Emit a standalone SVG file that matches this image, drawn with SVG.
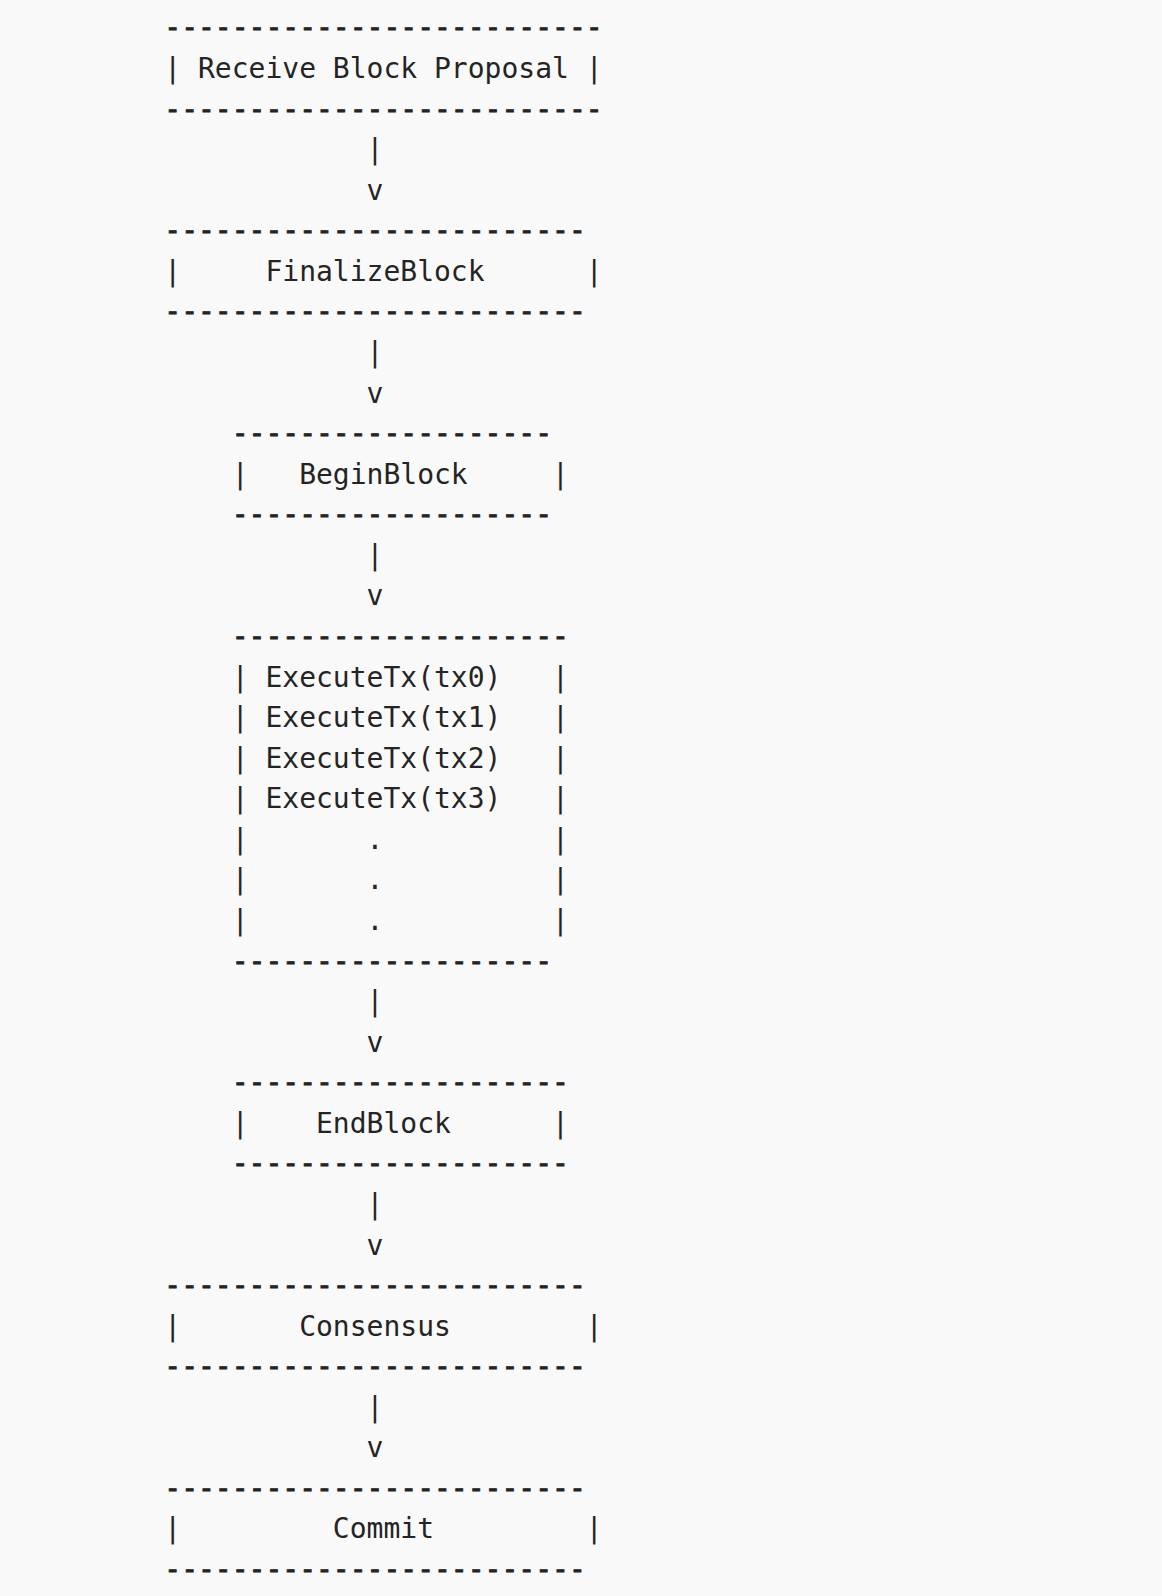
<svg xmlns="http://www.w3.org/2000/svg" width="1162" height="1596" viewBox="0 0 1162 1596">
<style>
text { font-family: "DejaVu Sans Mono", "Liberation Mono", monospace; font-size: 28px; fill: #242424; white-space: pre; }
text.rule { stroke: #242424; stroke-width: 0.8px; }
</style>
<rect x="0" y="0" width="1162" height="1596" fill="#f9f9f9"/>
<g id="node-receive">
<text class="rule" x="164.3" y="37.4" xml:space="preserve">--------------------------</text>
<text x="164.3" y="78" xml:space="preserve">| Receive Block Proposal |</text>
<text class="rule" x="164.3" y="118.5" xml:space="preserve">--------------------------</text>
</g>
<g id="node-finalize">
<text class="rule" x="164.3" y="240.2" xml:space="preserve">-------------------------</text>
<text x="164.3" y="280.8" xml:space="preserve">|     FinalizeBlock      |</text>
<text class="rule" x="164.3" y="321.4" xml:space="preserve">-------------------------</text>
</g>
<g id="node-begin">
<text class="rule" x="164.3" y="443.1" xml:space="preserve">    -------------------</text>
<text x="164.3" y="483.7" xml:space="preserve">    |   BeginBlock     |</text>
<text class="rule" x="164.3" y="524.2" xml:space="preserve">    -------------------</text>
</g>
<g id="node-execute">
<text class="rule" x="164.3" y="645.9" xml:space="preserve">    --------------------</text>
<text x="164.3" y="686.5" xml:space="preserve">    | ExecuteTx(tx0)   |</text>
<text x="164.3" y="727.1" xml:space="preserve">    | ExecuteTx(tx1)   |</text>
<text x="164.3" y="767.6" xml:space="preserve">    | ExecuteTx(tx2)   |</text>
<text x="164.3" y="808.2" xml:space="preserve">    | ExecuteTx(tx3)   |</text>
<text x="164.3" y="848.8" xml:space="preserve">    |       .          |</text>
<text x="164.3" y="889.4" xml:space="preserve">    |       .          |</text>
<text x="164.3" y="929.9" xml:space="preserve">    |       .          |</text>
<text class="rule" x="164.3" y="970.5" xml:space="preserve">    -------------------</text>
</g>
<g id="node-end">
<text class="rule" x="164.3" y="1092.2" xml:space="preserve">    --------------------</text>
<text x="164.3" y="1132.8" xml:space="preserve">    |    EndBlock      |</text>
<text class="rule" x="164.3" y="1173.3" xml:space="preserve">    --------------------</text>
</g>
<g id="node-consensus">
<text class="rule" x="164.3" y="1295.0" xml:space="preserve">-------------------------</text>
<text x="164.3" y="1335.6" xml:space="preserve">|       Consensus        |</text>
<text class="rule" x="164.3" y="1376.2" xml:space="preserve">-------------------------</text>
</g>
<g id="node-commit">
<text class="rule" x="164.3" y="1497.9" xml:space="preserve">-------------------------</text>
<text x="164.3" y="1538.4" xml:space="preserve">|         Commit         |</text>
<text class="rule" x="164.3" y="1579.0" xml:space="preserve">-------------------------</text>
</g>
<g id="connectors">
<text x="164.3" y="159.1" xml:space="preserve">            |</text>
<text x="164.3" y="199.7" xml:space="preserve">            v</text>
<text x="164.3" y="362.0" xml:space="preserve">            |</text>
<text x="164.3" y="402.5" xml:space="preserve">            v</text>
<text x="164.3" y="564.8" xml:space="preserve">            |</text>
<text x="164.3" y="605.4" xml:space="preserve">            v</text>
<text x="164.3" y="1011.1" xml:space="preserve">            |</text>
<text x="164.3" y="1051.7" xml:space="preserve">            v</text>
<text x="164.3" y="1213.9" xml:space="preserve">            |</text>
<text x="164.3" y="1254.5" xml:space="preserve">            v</text>
<text x="164.3" y="1416.7" xml:space="preserve">            |</text>
<text x="164.3" y="1457.3" xml:space="preserve">            v</text>
</g>
</svg>
